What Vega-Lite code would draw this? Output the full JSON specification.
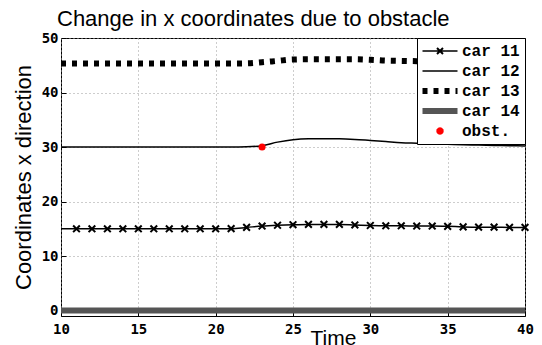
{
  "$schema": "https://vega.github.io/schema/vega-lite/v6.json",
  "autosize": "none",
  "width": 464,
  "height": 278,
  "padding": {"left": 61, "top": 38, "right": 17, "bottom": 29},
  "background": "white",
  "title": {
    "text": "Change in x coordinates due to obstacle",
    "font": "Liberation Sans",
    "fontSize": 22,
    "fontWeight": "normal",
    "color": "black",
    "anchor": "start",
    "frame": "group",
    "baseline": "alphabetic",
    "offset": 11,
    "dx": -4,
    "dy": 28
  },
  "data": {
    "values": [
      {"t": 10, "v": 15.0, "series": "car 11"},
      {"t": 11, "v": 15.0, "series": "car 11"},
      {"t": 12, "v": 15.0, "series": "car 11"},
      {"t": 13, "v": 15.0, "series": "car 11"},
      {"t": 14, "v": 15.0, "series": "car 11"},
      {"t": 15, "v": 15.0, "series": "car 11"},
      {"t": 16, "v": 15.0, "series": "car 11"},
      {"t": 17, "v": 15.0, "series": "car 11"},
      {"t": 18, "v": 15.0, "series": "car 11"},
      {"t": 19, "v": 15.0, "series": "car 11"},
      {"t": 20, "v": 15.0, "series": "car 11"},
      {"t": 21, "v": 15.02, "series": "car 11"},
      {"t": 22, "v": 15.25, "series": "car 11"},
      {"t": 23, "v": 15.5, "series": "car 11"},
      {"t": 24, "v": 15.65, "series": "car 11"},
      {"t": 25, "v": 15.75, "series": "car 11"},
      {"t": 26, "v": 15.8, "series": "car 11"},
      {"t": 27, "v": 15.8, "series": "car 11"},
      {"t": 28, "v": 15.8, "series": "car 11"},
      {"t": 29, "v": 15.7, "series": "car 11"},
      {"t": 30, "v": 15.6, "series": "car 11"},
      {"t": 31, "v": 15.55, "series": "car 11"},
      {"t": 32, "v": 15.55, "series": "car 11"},
      {"t": 33, "v": 15.5, "series": "car 11"},
      {"t": 34, "v": 15.5, "series": "car 11"},
      {"t": 35, "v": 15.45, "series": "car 11"},
      {"t": 36, "v": 15.35, "series": "car 11"},
      {"t": 37, "v": 15.3, "series": "car 11"},
      {"t": 38, "v": 15.3, "series": "car 11"},
      {"t": 39, "v": 15.25, "series": "car 11"},
      {"t": 40, "v": 15.25, "series": "car 11"},

      {"t": 10, "v": 30.0, "series": "car 12"},
      {"t": 15, "v": 30.0, "series": "car 12"},
      {"t": 20, "v": 30.0, "series": "car 12"},
      {"t": 21, "v": 30.0, "series": "car 12"},
      {"t": 22, "v": 30.05, "series": "car 12"},
      {"t": 23, "v": 30.25, "series": "car 12"},
      {"t": 24, "v": 30.9, "series": "car 12"},
      {"t": 25, "v": 31.35, "series": "car 12"},
      {"t": 26, "v": 31.5, "series": "car 12"},
      {"t": 27, "v": 31.5, "series": "car 12"},
      {"t": 28, "v": 31.5, "series": "car 12"},
      {"t": 29, "v": 31.4, "series": "car 12"},
      {"t": 30, "v": 31.2, "series": "car 12"},
      {"t": 31, "v": 31.0, "series": "car 12"},
      {"t": 32, "v": 30.8, "series": "car 12"},
      {"t": 33, "v": 30.7, "series": "car 12"},
      {"t": 34, "v": 30.6, "series": "car 12"},
      {"t": 35, "v": 30.5, "series": "car 12"},
      {"t": 36, "v": 30.4, "series": "car 12"},
      {"t": 37, "v": 30.35, "series": "car 12"},
      {"t": 38, "v": 30.3, "series": "car 12"},
      {"t": 39, "v": 30.25, "series": "car 12"},
      {"t": 40, "v": 30.2, "series": "car 12"},

      {"t": 10, "v": 45.3, "series": "car 13"},
      {"t": 15, "v": 45.3, "series": "car 13"},
      {"t": 20, "v": 45.3, "series": "car 13"},
      {"t": 22, "v": 45.35, "series": "car 13"},
      {"t": 23, "v": 45.55, "series": "car 13"},
      {"t": 24, "v": 45.8, "series": "car 13"},
      {"t": 25, "v": 46.05, "series": "car 13"},
      {"t": 26, "v": 46.1, "series": "car 13"},
      {"t": 27, "v": 46.1, "series": "car 13"},
      {"t": 28, "v": 46.1, "series": "car 13"},
      {"t": 29, "v": 46.1, "series": "car 13"},
      {"t": 30, "v": 46.0, "series": "car 13"},
      {"t": 31, "v": 45.85, "series": "car 13"},
      {"t": 32, "v": 45.8, "series": "car 13"},
      {"t": 33, "v": 45.75, "series": "car 13"},
      {"t": 34, "v": 45.7, "series": "car 13"},
      {"t": 35, "v": 45.65, "series": "car 13"},
      {"t": 36, "v": 45.6, "series": "car 13"},
      {"t": 37, "v": 45.55, "series": "car 13"},
      {"t": 38, "v": 45.5, "series": "car 13"},
      {"t": 39, "v": 45.5, "series": "car 13"},
      {"t": 40, "v": 45.45, "series": "car 13"},

      {"t": 10, "v": 0, "series": "car 14"},
      {"t": 40, "v": 0, "series": "car 14"},

      {"t": 23, "v": 30.0, "series": "obst."}
    ]
  },
  "encoding": {
    "x": {
      "field": "t", "type": "quantitative",
      "scale": {"domain": [10, 40], "nice": false, "zero": false},
      "axis": {
        "values": [10, 15, 20, 25, 30, 35, 40],
        "labelFlush": false,
        "title": "Time",
        "titleX": 272,
        "titleY": 28,
        "titleBaseline": "alphabetic",
        "titleAlign": "center"
      }
    },
    "y": {
      "field": "v", "type": "quantitative",
      "scale": {"domain": [-1, 50], "nice": false, "zero": false},
      "axis": {
        "values": [0, 10, 20, 30, 40, 50],
        "labelFlush": false,
        "title": "Coordinates x direction",
        "titleX": -31,
        "titleY": 139,
        "titleAngle": -90,
        "titleBaseline": "alphabetic",
        "titleAlign": "center"
      }
    },
    "color": {
      "field": "series", "type": "nominal",
      "scale": {
        "domain": ["car 11", "car 12", "car 13", "car 14", "obst."],
        "range": ["black", "black", "black", "#555555", "#ff0000"]
      },
      "legend": {
        "title": null,
        "orient": "top-right",
        "offset": 0,
        "padding": 5,
        "strokeColor": "black",
        "fillColor": "white",
        "cornerRadius": 0,
        "labelFont": "Liberation Mono",
        "labelFontSize": 16,
        "labelFontWeight": "bold",
        "labelColor": "black",
        "symbolSize": 100,
        "symbolStrokeWidth": 0,
        "symbolOffset": 10,
        "labelOffset": 14,
        "rowPadding": 4,
        "encode": {
          "symbols": {
            "update": {
              "shape": {"signal": "datum.value === 'car 11' ? 'M-3.5,-0.15L3.5,-0.15L3.5,0.15L-3.5,0.15ZM-0.46,-0.74L0.74,0.46L0.46,0.74L-0.74,-0.46ZM-0.74,0.46L0.46,-0.74L0.74,-0.46L-0.46,0.74Z' : datum.value === 'car 12' ? 'M-3.5,-0.15L3.5,-0.15L3.5,0.15L-3.5,0.15Z' : datum.value === 'car 13' ? 'M-3.5,-0.6L-2.5,-0.6L-2.5,0.6L-3.5,0.6ZM-1.3,-0.6L-0.3,-0.6L-0.3,0.6L-1.3,0.6ZM0.9,-0.6L1.9,-0.6L1.9,0.6L0.9,0.6ZM3.1,-0.6L3.5,-0.6L3.5,0.6L3.1,0.6Z' : datum.value === 'car 14' ? 'M-3.5,-0.6L3.5,-0.6L3.5,0.6L-3.5,0.6Z' : 'M0.75,0L0.65,0.375L0.375,0.65L0,0.75L-0.375,0.65L-0.65,0.375L-0.75,0L-0.65,-0.375L-0.375,-0.65L0,-0.75L0.375,-0.65L0.65,-0.375Z'"},
              "fill": {"signal": "datum.value === 'obst.' ? '#ff0000' : datum.value === 'car 14' ? '#555555' : 'black'"},
              "opacity": {"value": 1}
            }
          }
        }
      }
    }
  },
  "layer": [
    {
      "transform": [{"filter": "datum.series === 'car 14'"}],
      "mark": {"type": "line", "strokeWidth": 6, "strokeCap": "butt"}
    },
    {
      "transform": [{"filter": "datum.series === 'car 11'"}],
      "mark": {"type": "line", "strokeWidth": 1.5, "interpolate": "monotone"}
    },
    {
      "transform": [{"filter": "datum.series === 'car 11' && datum.t >= 11"}],
      "mark": {"type": "point", "shape": "M-1,-1L1,1M-1,1L1,-1", "size": 45, "strokeWidth": 2, "filled": false, "opacity": 1}
    },
    {
      "transform": [{"filter": "datum.series === 'car 12'"}],
      "mark": {"type": "line", "strokeWidth": 1.5, "interpolate": "monotone"}
    },
    {
      "transform": [{"filter": "datum.series === 'car 13'"}],
      "mark": {"type": "line", "strokeWidth": 6, "strokeDash": [5, 6], "strokeCap": "butt", "interpolate": "monotone"}
    },
    {
      "transform": [{"filter": "datum.series === 'obst.'"}],
      "mark": {"type": "point", "shape": "circle", "size": 50, "filled": true, "opacity": 1}
    }
  ],
  "config": {
    "view": {"stroke": "black", "strokeWidth": 1},
    "axis": {
      "domain": false,
      "grid": true,
      "gridColor": "#9a9a9a",
      "gridDash": [1, 3],
      "gridWidth": 1,
      "ticks": true,
      "tickColor": "black",
      "tickSize": -5,
      "tickWidth": 1,
      "labelFont": "DejaVu Sans Mono",
      "labelFontWeight": "bold",
      "labelFontSize": 14,
      "labelColor": "black",
      "titleFont": "Liberation Sans",
      "titleFontWeight": "normal",
      "titleFontSize": 22,
      "titleColor": "black"
    },
    "axisX": {"labelPadding": 11, "titleFontSize": 21},
    "axisY": {"labelPadding": 8}
  }
}
